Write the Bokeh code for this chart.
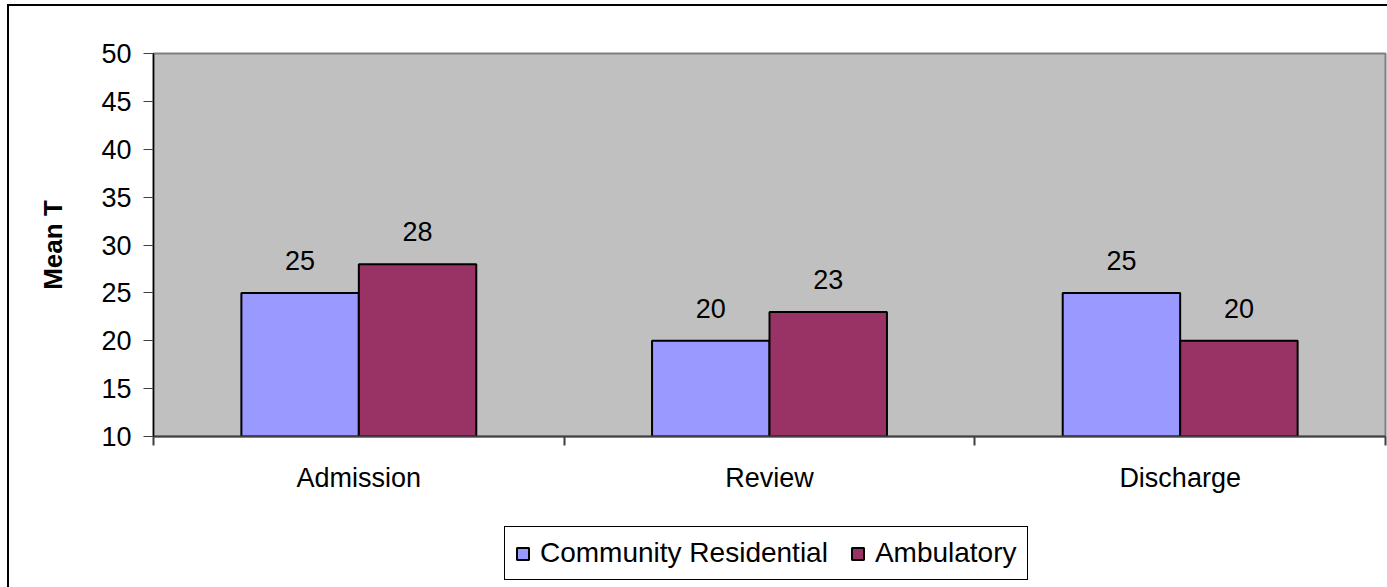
from bokeh.plotting import figure
from bokeh.layouts import column
from bokeh.models import (ColumnDataSource, FixedTicker, Legend, LegendItem,
                          LabelSet)
from bokeh.core.properties import value
from bokeh.embed import file_html
from bokeh.resources import INLINE

categories = ["Admission", "Review", "Discharge"]
community_residential = [25, 20, 25]
ambulatory = [28, 23, 20]
series_names = ["Community Residential", "Ambulatory"]
y_ticks = [10, 15, 20, 25, 30, 35, 40, 45, 50]

FONT = "Liberation Sans"
FS = "27px"
CR_COLOR = "#9999FF"
AM_COLOR = "#993366"
bar_w = 0.286
idx = [i + 0.5 for i in range(len(categories))]

src_cr = ColumnDataSource(dict(
    x=[v - bar_w / 2 for v in idx], top=community_residential,
    label=[str(v) for v in community_residential]))
src_am = ColumnDataSource(dict(
    x=[v + bar_w / 2 for v in idx], top=ambulatory,
    label=[str(v) for v in ambulatory]))

p = figure(width=1387, height=520, output_backend="svg", toolbar_location=None,
           x_range=(0, 3), y_range=(10, 50),
           min_border_left=153, min_border_right=2, min_border_top=53,
           min_border_bottom=84)
p.styles = {
    "background": ("linear-gradient(black, black) 7px 4px / 2px 100% no-repeat, "
                   "linear-gradient(black, black) 7px 4px / 100% 2px no-repeat, white"),
}
p.background_fill_color = "#C0C0C0"
p.border_fill_alpha = 0
p.outline_line_color = "#808080"
p.outline_line_width = 2
p.grid.visible = False

r1 = p.vbar(x="x", top="top", bottom=10, width=bar_w, source=src_cr,
            fill_color=CR_COLOR, line_color="black", line_width=2)
r2 = p.vbar(x="x", top="top", bottom=10, width=bar_w, source=src_am,
            fill_color=AM_COLOR, line_color="black", line_width=2)

for s in (src_cr, src_am):
    p.add_layout(LabelSet(x="x", y="top", text="label", source=s,
                          text_align="center", text_baseline="alphabetic",
                          y_offset=23, text_font=value(FONT),
                          text_font_size=value(FS), text_color="black"))

# x axis
p.xaxis.ticker = FixedTicker(ticks=idx, minor_ticks=[0, 1, 2, 3])
p.xaxis.major_label_overrides = {v: c for v, c in zip(idx, categories)}
p.xaxis.major_tick_line_color = None
p.xaxis.minor_tick_out = 9
p.xaxis.minor_tick_in = 0
p.xaxis.minor_tick_line_color = "#404040"
p.xaxis.minor_tick_line_width = 2
p.xaxis.axis_line_color = "#404040"
p.xaxis.axis_line_width = 2
p.xaxis.major_label_standoff = 17
p.xaxis.major_label_text_font = FONT
p.xaxis.major_label_text_font_size = FS
p.xaxis.major_label_text_color = "black"

# y axis
p.yaxis.ticker = FixedTicker(ticks=y_ticks, minor_ticks=[])
p.yaxis.major_tick_out = 10
p.yaxis.major_tick_in = 0
p.yaxis.major_tick_line_color = "#404040"
p.yaxis.axis_line_color = "black"
p.yaxis.axis_line_width = 1.5
p.yaxis.major_label_standoff = 12
p.yaxis.major_label_text_font = FONT
p.yaxis.major_label_text_font_size = FS
p.yaxis.major_label_text_color = "black"
p.yaxis.axis_label = "Mean T"
p.yaxis.axis_label_text_font = FONT
p.yaxis.axis_label_text_font_size = "26px"
p.yaxis.axis_label_text_font_style = "bold"
p.yaxis.axis_label_text_color = "black"
p.yaxis.axis_label_standoff = 30

# legend strip below the chart
p2 = figure(width=1387, height=67, output_backend="svg", toolbar_location=None,
            x_range=(0, 1), y_range=(0, 1), x_axis_location=None,
            y_axis_location=None, min_border=0)
p2.styles = {
    "background": "linear-gradient(black, black) 7px 0 / 2px 100% no-repeat, white",
}
p2.background_fill_alpha = 0
p2.border_fill_alpha = 0
p2.outline_line_color = None
p2.grid.visible = False
# undrawn proxies (NaN position) that give the legend its swatches
nan = float("nan")
l1 = p2.vbar(x=[nan], top=[nan], width=0.1, fill_color=CR_COLOR,
             line_color="black", line_width=2)
l2 = p2.vbar(x=[nan], top=[nan], width=0.1, fill_color=AM_COLOR,
             line_color="black", line_width=2)

legend = Legend(items=[LegendItem(label=series_names[0], renderers=[l1]),
                       LegendItem(label=series_names[1], renderers=[l2])],
                orientation="horizontal", location=(351, 7),
                glyph_width=15, glyph_height=15, label_standoff=10,
                spacing=22, padding=10, margin=0,
                label_text_font=FONT, label_text_font_size="28px",
                label_text_color="black",
                border_line_color="black", border_line_alpha=1,
                border_line_width=1,
                background_fill_color="white", background_fill_alpha=1)
p2.add_layout(legend)

layout = column(p, p2, spacing=0)
open("out.html", "w").write(file_html(layout, INLINE))
